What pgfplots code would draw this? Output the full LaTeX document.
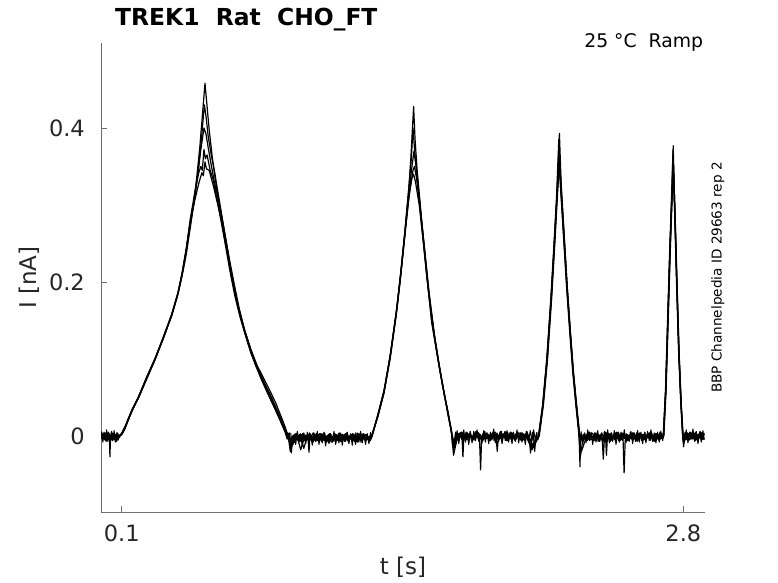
\documentclass[border=0pt]{standalone}
\usepackage{fontspec}
\setmainfont{DejaVu Sans}
\usepackage{pgfplots}
\pgfplotsset{compat=1.18}
\definecolor{axgray}{RGB}{110,110,110}
\definecolor{txtgray}{RGB}{38,38,38}
\begin{document}
\begin{tikzpicture}[x=1bp,y=1bp]
\useasboundingbox (0,0) rectangle (778,583);
\begin{axis}[
  at={(101bp,70.7bp)}, anchor=south west,
  scale only axis, width=604bp, height=469.3bp,
  xmin=0, xmax=2.904, ymin=-0.0991, ymax=0.5104,
  axis x line*=bottom, axis y line*=left,
  axis line style={axgray, line width=0.8bp, -},
  xtick={0.1,2.8}, ytick={0,0.2,0.4},
  tick align=inside, major tick length=6bp,
  tick style={axgray, line width=0.8bp},
  /pgf/number format/assume math mode=true,
  tick label style={font=\fontsize{22.5bp}{27bp}\selectfont, text=txtgray},
  yticklabel style={anchor=east, inner sep=0pt, xshift=-16bp},
  xticklabel style={anchor=north, inner sep=0pt, yshift=-12.7bp},
  xlabel={t [s]}, ylabel={I [nA]},
  label style={font=\fontsize{23bp}{27bp}\selectfont, text=txtgray},
  xlabel style={at={(axis description cs:0.5,-0.1166)}, anchor=center},
  ylabel style={at={(axis description cs:-0.1189,0.5)}, anchor=center},
  unbounded coords=jump,
  tr/.style={black, no markers, line width=1.2bp, line join=round},
]
% Trace 1
\addplot[tr] coordinates {
(0,0.002)(0.005,-0.003)(0.01,0.004)(0.015,-0.005)(0.02,0.000)(0.025,-0.007)(0.03,0.003)(0.035,-0.002)(0.04,0.001)(0.043,-0.027)(0.045,-0.006)(0.05,0.005)(0.055,-0.004)(0.06,-0.001)(0.065,-0.005)(0.07,0.002)(0.075,-0.007)(0.08,0.004)(0.085,-0.002)
(0.09,0.001)(0.10,0.003)(0.115,0.011)(0.13,0.022)(0.15,0.034)(0.18,0.051)(0.22,0.076)(0.26,0.1)(0.30,0.129)(0.34,0.158)(0.37,0.186)(0.39,0.211)(0.41,0.242)(0.43,0.281)(0.445,0.302)(0.46,0.335)(0.475,0.375)(0.49,0.425)(0.5,0.458)(0.51,0.428)(0.52,0.398)(0.535,0.362)(0.55,0.332)(0.57,0.301)(0.59,0.27)(0.61,0.238)(0.63,0.206)(0.65,0.179)(0.68,0.146)(0.71,0.119)(0.74,0.094)(0.77,0.074)(0.8,0.056)(0.83,0.039)(0.86,0.022)(0.88,0.01)(0.9,0.001)
(0.905,0.004)(0.910,-0.005)(0.915,-0.022)(0.920,-0.006)(0.925,0.001)(0.930,-0.008)(0.935,0.003)(0.940,-0.004)(0.945,-0.001)(0.950,-0.005)(0.955,0.002)(0.960,-0.007)(0.965,0.000)(0.970,-0.003)(0.975,0.004)(0.980,-0.006)(0.985,0.001)(0.990,-0.004)(0.995,-0.002)(1.000,-0.021)
(1.005,0.003)(1.010,-0.005)(1.015,0.000)(1.020,-0.008)(1.025,0.002)(1.030,-0.003)(1.035,0.001)(1.040,-0.006)(1.045,-0.001)(1.050,-0.004)(1.055,0.003)(1.060,-0.007)(1.065,0.000)(1.070,-0.005)(1.075,0.004)(1.080,-0.003)(1.085,-0.002)(1.090,-0.006)(1.095,0.002)(1.100,-0.008)
(1.105,0.001)(1.110,-0.004)(1.115,-0.001)(1.120,-0.007)(1.125,0.003)(1.130,-0.005)(1.135,0.000)(1.140,-0.006)(1.145,0.004)(1.150,-0.004)(1.155,0.002)(1.160,-0.005)(1.165,-0.001)(1.170,-0.007)(1.175,0.001)(1.180,-0.003)(1.185,0.003)(1.190,-0.008)(1.195,0.000)(1.200,-0.004)
(1.205,0.002)(1.210,-0.006)(1.215,-0.002)(1.220,-0.005)(1.225,0.004)(1.230,-0.007)(1.235,-0.001)(1.240,-0.003)(1.245,0.001)(1.250,-0.008)(1.255,0.003)(1.260,-0.004)(1.265,0.000)(1.270,-0.006)(1.275,0.002)(1.280,-0.005)(1.285,-0.001)(1.290,-0.007)(1.295,0.001)(1.300,-0.002)
(1.305,0.002)(1.33,0.026)(1.36,0.057)(1.39,0.103)(1.42,0.16)(1.44,0.208)(1.46,0.262)(1.48,0.322)(1.49,0.362)(1.503,0.428)(1.51,0.385)(1.52,0.345)(1.543,0.277)(1.57,0.2)(1.59,0.147)(1.62,0.1)(1.647,0.06)(1.67,0.029)(1.685,0.006)(1.69,-0.012)
(1.695,-0.008)(1.700,-0.005)(1.705,0.005)(1.710,-0.003)(1.715,0.002)(1.720,-0.006)(1.725,0.004)(1.730,-0.001)(1.735,0.003)(1.740,-0.027)(1.745,0.001)(1.750,-0.002)(1.755,0.005)(1.760,-0.005)(1.765,0.002)(1.770,-0.003)(1.775,0.006)(1.780,-0.001)(1.785,0.000)(1.790,-0.004)
(1.795,0.004)(1.800,-0.006)(1.805,0.003)(1.810,-0.002)(1.815,0.001)(1.820,-0.005)(1.825,-0.044)(1.830,-0.003)(1.835,0.002)(1.840,-0.004)(1.845,0.006)(1.850,-0.002)(1.855,0.004)(1.860,-0.003)(1.865,0.001)(1.870,-0.005)(1.875,0.003)(1.880,-0.001)(1.885,0.005)(1.890,-0.006)
(1.895,0.002)(1.900,-0.002)(1.905,-0.020)(1.910,-0.004)(1.915,0.000)(1.920,-0.003)(1.925,0.006)(1.930,-0.005)(1.935,0.001)(1.940,-0.001)(1.945,0.003)(1.950,-0.006)(1.955,0.005)(1.960,-0.002)(1.965,0.002)(1.970,-0.004)(1.975,0.004)(1.980,-0.003)(1.985,0.001)(1.990,-0.005)
(1.995,0.003)(2.000,-0.002)(2.005,0.005)(2.010,-0.004)(2.015,0.001)(2.020,-0.006)(2.025,0.004)(2.030,-0.001)(2.035,0.002)(2.040,-0.005)(2.045,0.006)(2.050,-0.003)(2.055,0.000)(2.060,-0.004)(2.065,-0.022)(2.070,-0.006)(2.075,0.005)(2.080,-0.002)(2.085,-0.020)(2.090,-0.003)(2.095,0.004)(2.100,-0.005)
(2.105,0.0)(2.125,0.04)(2.145,0.1)(2.165,0.18)(2.18,0.25)(2.192,0.31)(2.204,0.393)(2.212,0.33)(2.225,0.27)(2.24,0.2)(2.255,0.14)(2.27,0.085)(2.285,0.04)(2.298,0.005)(2.303,-0.04)
(2.305,-0.010)(2.310,-0.003)(2.315,0.000)(2.320,-0.006)(2.325,0.004)(2.330,-0.004)(2.335,0.001)(2.340,-0.005)(2.345,0.005)(2.350,-0.003)(2.355,0.003)(2.360,-0.004)(2.365,0.000)(2.370,-0.006)(2.375,0.002)(2.380,-0.002)(2.385,0.004)(2.390,-0.007)(2.395,0.001)(2.400,-0.003)
(2.405,0.003)(2.410,-0.005)(2.415,-0.030)(2.420,-0.004)(2.425,0.005)(2.430,-0.025)(2.435,0.000)(2.440,-0.002)(2.445,0.002)(2.450,-0.007)(2.455,0.004)(2.460,-0.003)(2.465,0.001)(2.470,-0.005)(2.475,0.003)(2.480,-0.004)(2.485,0.000)(2.490,-0.006)(2.495,0.002)(2.500,-0.003)
(2.505,0.004)(2.510,-0.005)(2.515,-0.048)(2.520,-0.007)(2.525,0.003)(2.530,-0.002)(2.535,0.001)(2.540,-0.006)(2.545,0.005)(2.550,-0.004)(2.555,-0.001)(2.560,-0.005)(2.565,0.002)(2.570,-0.007)(2.575,0.004)(2.580,-0.003)(2.585,0.000)(2.590,-0.004)(2.595,0.003)(2.600,-0.006)
(2.605,0.001)(2.610,-0.002)(2.615,0.005)(2.620,-0.005)(2.625,0.002)(2.630,-0.003)(2.635,0.004)(2.640,-0.006)(2.645,0.001)(2.650,-0.004)(2.655,0.001)(2.660,-0.007)(2.665,0.003)(2.670,-0.002)(2.675,0.002)(2.680,-0.005)(2.685,0.000)(2.690,-0.003)(2.695,0.004)(2.700,-0.006)
(2.704,0.0)(2.715,0.06)(2.725,0.15)(2.735,0.24)(2.744,0.31)(2.751,0.377)(2.758,0.30)(2.768,0.2)(2.778,0.11)(2.788,0.045)(2.797,0.0)(2.801,-0.014)
(2.805,-0.004)(2.81,0.005)(2.815,-0.003)(2.82,0.002)(2.825,-0.006)(2.83,0.004)(2.835,-0.001)(2.84,0.003)(2.845,-0.004)(2.85,0.001)(2.855,-0.002)(2.86,0.005)(2.865,-0.005)(2.87,0.002)(2.875,-0.003)(2.88,0.006)(2.885,-0.001)(2.89,0.000)(2.895,-0.004)(2.9,0.004)
};
% Trace 2
\addplot[tr] coordinates {
(0.0025,-0.004)(0.0125,0.003)(0.0225,-0.006)(0.0325,0.002)(0.0425,-0.005)(0.0525,0.004)(0.0625,-0.003)(0.0725,0.001)(0.0825,-0.005)
(0.088,0.0)(0.1,0.004)(0.115,0.012)(0.13,0.021)(0.15,0.035)(0.18,0.05)(0.22,0.077)(0.26,0.101)(0.3,0.128)(0.34,0.156)(0.37,0.184)(0.39,0.208)(0.41,0.236)(0.43,0.272)(0.44,0.29)(0.455,0.318)(0.47,0.35)(0.485,0.392)(0.497,0.43)(0.505,0.415)(0.515,0.39)(0.53,0.365)(0.545,0.345)(0.56,0.32)(0.58,0.288)(0.6,0.255)(0.62,0.222)(0.64,0.194)(0.66,0.168)(0.69,0.138)(0.72,0.112)(0.75,0.09)(0.78,0.072)(0.81,0.055)(0.84,0.036)(0.865,0.018)(0.885,0.005)(0.895,-0.004)
(0.9025,0.003)(0.9125,-0.006)(0.9225,0.000)(0.9325,-0.008)(0.9425,0.001)(0.9525,-0.003)(0.9625,0.002)(0.9725,-0.007)(0.9825,-0.001)(0.9925,-0.005)(1.0025,0.004)(1.0125,-0.004)(1.0225,-0.002)(1.0325,-0.007)(1.0425,0.001)(1.0525,-0.006)(1.0625,0.003)(1.0725,-0.003)(1.0825,0.000)(1.0925,-0.008)
(1.1025,0.002)(1.1125,-0.005)(1.1225,-0.001)(1.1325,-0.004)(1.1425,0.003)(1.1525,-0.007)(1.1625,0.001)(1.1725,-0.003)(1.1825,0.004)(1.1925,-0.006)(1.2025,0.000)(1.2125,-0.005)(1.2225,-0.002)(1.2325,-0.008)(1.2425,0.002)(1.2525,-0.004)(1.2625,0.003)(1.2725,-0.006)(1.2825,-0.001)(1.2925,-0.005)
(1.302,0.0)(1.33,0.027)(1.36,0.058)(1.39,0.104)(1.42,0.162)(1.44,0.21)(1.46,0.263)(1.48,0.322)(1.492,0.36)(1.5,0.4)(1.508,0.37)(1.52,0.335)(1.54,0.28)(1.565,0.21)(1.59,0.15)(1.615,0.107)(1.64,0.068)(1.665,0.035)(1.68,0.014)(1.69,-0.005)(1.695,-0.018)
(1.7025,-0.003)(1.7125,0.004)(1.7225,-0.001)(1.7325,0.005)(1.7425,-0.006)(1.7525,0.002)(1.7625,-0.004)(1.7725,0.003)(1.7825,0.000)(1.7925,-0.005)(1.8025,0.006)(1.8125,-0.002)(1.8225,0.001)(1.8325,-0.004)(1.8425,0.005)(1.8525,-0.003)(1.8625,0.002)(1.8725,-0.006)(1.8825,0.004)(1.8925,-0.001)
(1.9025,0.003)(1.9125,-0.005)(1.9225,0.001)(1.9325,-0.002)(1.9425,0.006)(1.9525,-0.004)(1.9625,0.000)(1.9725,-0.003)(1.9825,0.005)(1.9925,-0.006)(2.0025,0.002)(2.0125,-0.001)(2.0225,0.004)(2.0325,-0.005)(2.0425,0.003)(2.0525,-0.002)(2.0625,-0.012)(2.0725,-0.018)(2.0825,-0.01)(2.0925,-0.003)
(2.103,0.0)(2.123,0.04)(2.143,0.1)(2.163,0.18)(2.178,0.25)(2.19,0.31)(2.201,0.385)(2.21,0.32)(2.223,0.262)(2.238,0.195)(2.253,0.137)(2.268,0.083)(2.283,0.04)(2.296,0.006)(2.302,-0.012)
(2.3075,0.003)(2.3175,-0.004)(2.3275,0.001)(2.3375,-0.006)(2.3475,0.005)(2.3575,-0.002)(2.3675,-0.001)(2.3775,-0.005)(2.3875,0.002)(2.3975,-0.007)(2.4075,0.004)(2.4175,-0.003)(2.4275,0.000)(2.4375,-0.004)(2.4475,0.003)(2.4575,-0.006)(2.4675,0.001)(2.4775,-0.002)(2.4875,0.005)(2.4975,-0.005)
(2.5075,0.002)(2.5175,-0.003)(2.5275,-0.001)(2.5375,-0.006)(2.5475,0.004)(2.5575,-0.004)(2.5675,0.001)(2.5775,-0.007)(2.5875,0.003)(2.5975,-0.002)(2.6075,0.002)(2.6175,-0.005)(2.6275,0.000)(2.6375,-0.003)(2.6475,0.004)(2.6575,-0.006)(2.6675,0.001)(2.6775,-0.004)(2.6875,0.005)(2.6975,-0.002)
(2.703,0.0)(2.714,0.06)(2.724,0.15)(2.734,0.24)(2.743,0.31)(2.75,0.37)(2.757,0.3)(2.767,0.2)(2.777,0.11)(2.787,0.045)(2.796,0.002)(2.8,-0.008)
(2.8075,0.004)(2.8175,-0.005)(2.8275,0.002)(2.8375,-0.003)(2.8475,0.005)(2.8575,-0.006)(2.8675,0.001)(2.8775,-0.002)(2.8875,0.004)(2.8975,-0.004)
};
% Trace 3
\addplot[tr] coordinates {
(0.0,-0.003)(0.02,0.004)(0.04,-0.005)(0.06,0.003)(0.08,-0.002)
(0.086,0.0)(0.1,0.003)(0.115,0.01)(0.13,0.02)(0.15,0.033)(0.18,0.049)(0.22,0.074)(0.26,0.099)(0.3,0.127)(0.34,0.157)(0.37,0.185)(0.39,0.21)(0.41,0.24)(0.43,0.276)(0.45,0.31)(0.465,0.34)(0.48,0.372)(0.495,0.4)(0.505,0.392)(0.515,0.375)(0.53,0.352)(0.545,0.33)(0.56,0.312)(0.58,0.285)(0.6,0.256)(0.62,0.226)(0.64,0.198)(0.665,0.165)(0.69,0.138)(0.72,0.113)(0.75,0.092)(0.78,0.076)(0.81,0.06)(0.84,0.043)(0.865,0.026)(0.885,0.012)(0.9,0.0)(0.905,-0.01)
(0.91,-0.02)(0.93,0.002)(0.95,-0.007)(0.97,0.003)(0.99,-0.005)(1.01,0.001)(1.03,-0.006)(1.05,0.003)(1.07,-0.004)(1.09,-0.001)(1.11,-0.008)(1.13,0.002)(1.15,-0.005)(1.17,0.001)(1.19,-0.007)(1.21,0.003)(1.23,-0.003)(1.25,-0.005)(1.27,0.002)(1.29,-0.005)
(1.302,0.0)(1.33,0.025)(1.36,0.056)(1.39,0.102)(1.42,0.16)(1.44,0.207)(1.46,0.26)(1.48,0.315)(1.495,0.35)(1.505,0.37)(1.515,0.35)(1.53,0.31)(1.55,0.256)(1.575,0.19)(1.6,0.137)(1.625,0.094)(1.65,0.055)(1.67,0.027)(1.685,0.005)(1.695,-0.025)
(1.71,-0.006)(1.73,0.004)(1.75,-0.003)(1.77,0.002)(1.79,-0.005)(1.81,0.005)(1.83,-0.002)(1.85,0.001)(1.87,-0.006)(1.89,0.003)(1.91,-0.004)(1.93,0.002)(1.95,-0.003)(1.97,0.005)(1.99,-0.005)(2.01,0.001)(2.03,-0.002)(2.05,0.004)(2.07,-0.016)(2.09,-0.006)
(2.105,0.0)(2.125,0.04)(2.145,0.1)(2.165,0.18)(2.18,0.25)(2.192,0.31)(2.203,0.37)(2.212,0.32)(2.225,0.262)(2.24,0.195)(2.255,0.137)(2.27,0.083)(2.285,0.04)(2.298,0.006)(2.305,-0.018)
(2.31,-0.02)(2.33,-0.004)(2.35,0.003)(2.37,-0.006)(2.39,0.002)(2.41,-0.003)(2.43,0.004)(2.45,-0.005)(2.47,0.001)(2.49,-0.002)(2.51,0.003)(2.53,-0.006)(2.55,0.002)(2.57,-0.004)(2.59,0.004)(2.61,-0.005)(2.63,0.001)(2.65,-0.003)(2.67,0.003)(2.69,-0.004)
(2.705,0.0)(2.716,0.06)(2.726,0.15)(2.736,0.24)(2.745,0.31)(2.751,0.36)(2.759,0.295)(2.769,0.198)(2.779,0.108)(2.789,0.043)(2.798,0.0)(2.802,-0.01)
(2.81,0.003)(2.83,-0.005)(2.85,0.004)(2.87,-0.003)(2.89,0.002)(2.9,-0.004)
};
% Trace 4
\addplot[tr] coordinates {
(0.01,0.003)(0.03,-0.006)(0.05,0.002)(0.07,-0.004)(0.084,0.001)
(0.09,0.0)(0.1,0.002)(0.115,0.009)(0.13,0.021)(0.15,0.034)(0.18,0.05)(0.22,0.075)(0.26,0.1)(0.3,0.128)(0.34,0.158)(0.37,0.186)(0.39,0.212)(0.41,0.244)(0.43,0.283)(0.45,0.315)(0.47,0.342)(0.48,0.35)(0.487,0.345)(0.495,0.372)(0.502,0.36)(0.51,0.365)(0.525,0.345)(0.54,0.332)(0.56,0.305)(0.58,0.275)(0.6,0.245)(0.62,0.214)(0.645,0.18)(0.67,0.153)(0.7,0.126)(0.73,0.102)(0.76,0.083)(0.79,0.066)(0.82,0.05)(0.85,0.032)(0.875,0.016)(0.895,0.003)(0.91,-0.006)
(0.92,-0.012)(0.94,0.003)(0.96,-0.018)(0.98,0.001)(1.0,-0.006)(1.02,0.004)(1.04,-0.004)(1.06,-0.001)(1.08,-0.007)(1.1,0.003)(1.12,-0.003)(1.14,-0.006)(1.16,0.002)(1.18,-0.005)(1.2,0.001)(1.22,-0.007)(1.24,0.003)(1.26,-0.004)(1.28,0.0)(1.295,-0.006)
(1.304,0.0)(1.335,0.03)(1.365,0.064)(1.395,0.112)(1.425,0.172)(1.445,0.22)(1.465,0.272)(1.485,0.32)(1.5,0.345)(1.507,0.35)(1.517,0.335)(1.535,0.295)(1.555,0.245)(1.58,0.18)(1.605,0.127)(1.63,0.085)(1.655,0.048)(1.675,0.02)(1.69,0.0)(1.7,-0.015)
(1.72,0.003)(1.74,-0.006)(1.76,0.004)(1.78,-0.002)(1.8,0.001)(1.82,-0.005)(1.84,0.004)(1.86,-0.003)(1.88,0.002)(1.9,-0.006)(1.92,0.005)(1.94,-0.002)(1.96,0.0)(1.98,-0.004)(2.0,0.003)(2.02,-0.005)(2.04,0.002)(2.06,-0.01)(2.08,-0.015)(2.098,-0.004)
(2.107,0.0)(2.127,0.04)(2.147,0.1)(2.167,0.18)(2.182,0.25)(2.194,0.31)(2.205,0.36)(2.214,0.315)(2.227,0.258)(2.242,0.192)(2.257,0.135)(2.272,0.082)(2.287,0.04)(2.3,0.006)(2.306,-0.025)
(2.315,-0.008)(2.335,0.002)(2.355,-0.005)(2.375,0.004)(2.395,-0.002)(2.415,-0.006)(2.435,0.003)(2.455,-0.003)(2.475,0.004)(2.495,-0.006)(2.515,0.001)(2.535,-0.002)(2.555,0.004)(2.575,-0.005)(2.595,0.002)(2.615,-0.004)(2.635,0.003)(2.655,-0.006)(2.675,0.002)(2.698,-0.002)
(2.706,0.0)(2.717,0.06)(2.727,0.15)(2.737,0.24)(2.746,0.31)(2.752,0.35)(2.76,0.29)(2.77,0.195)(2.78,0.105)(2.79,0.04)(2.799,0.0)(2.803,-0.006)
(2.815,-0.003)(2.835,0.005)(2.855,-0.004)(2.875,0.002)(2.895,-0.005)
};
% Trace 5
\addplot[tr] coordinates {
(0.0,0.004)(0.015,-0.004)(0.035,0.005)(0.055,-0.006)(0.075,0.002)(0.088,-0.002)
(0.092,0.0)(0.1,0.002)(0.115,0.01)(0.13,0.02)(0.15,0.033)(0.18,0.05)(0.22,0.076)(0.26,0.1)(0.3,0.127)(0.34,0.157)(0.37,0.185)(0.39,0.21)(0.41,0.242)(0.43,0.278)(0.45,0.305)(0.47,0.328)(0.485,0.342)(0.492,0.338)(0.5,0.356)(0.507,0.347)(0.52,0.345)(0.54,0.325)(0.56,0.302)(0.58,0.278)(0.6,0.25)(0.62,0.22)(0.64,0.19)(0.66,0.165)(0.69,0.135)(0.72,0.108)(0.75,0.088)(0.78,0.07)(0.81,0.051)(0.84,0.033)(0.87,0.015)(0.89,0.004)(0.905,-0.007)
(0.915,-0.015)(0.935,-0.004)(0.955,0.002)(0.975,-0.016)(0.995,0.002)(1.015,-0.007)(1.035,0.003)(1.055,-0.002)(1.075,-0.006)(1.095,0.002)(1.115,-0.004)(1.135,0.001)(1.155,-0.007)(1.175,0.003)(1.195,-0.003)(1.215,0.002)(1.235,-0.006)(1.255,0.001)(1.275,-0.004)(1.298,0.0)
(1.3,0.0)(1.33,0.024)(1.36,0.055)(1.39,0.1)(1.42,0.158)(1.44,0.205)(1.46,0.258)(1.48,0.31)(1.495,0.335)(1.503,0.34)(1.512,0.33)(1.53,0.3)(1.55,0.25)(1.575,0.187)(1.6,0.135)(1.625,0.092)(1.65,0.054)(1.672,0.022)(1.688,0.0)(1.698,-0.012)
(1.715,-0.002)(1.735,0.005)(1.755,-0.005)(1.775,0.001)(1.795,-0.003)(1.815,0.004)(1.835,-0.006)(1.855,0.002)(1.875,-0.001)(1.895,0.005)(1.915,-0.004)(1.935,0.0)(1.955,-0.006)(1.975,0.003)(1.995,-0.002)(2.015,0.004)(2.035,-0.005)(2.055,0.001)(2.075,-0.012)(2.095,-0.002)
(2.104,0.0)(2.124,0.04)(2.144,0.1)(2.164,0.18)(2.179,0.25)(2.192,0.31)(2.203,0.35)(2.213,0.31)(2.226,0.255)(2.241,0.19)(2.256,0.133)(2.271,0.08)(2.286,0.038)(2.299,0.004)(2.304,-0.006)
(2.32,0.002)(2.34,-0.005)(2.36,0.004)(2.38,-0.003)(2.4,0.001)(2.42,-0.006)(2.44,0.003)(2.46,-0.002)(2.48,0.005)(2.5,-0.005)(2.52,0.0)(2.54,-0.003)(2.56,0.004)(2.58,-0.006)(2.6,0.002)(2.62,-0.002)(2.64,0.004)(2.66,-0.005)(2.68,0.001)(2.7,-0.003)
(2.704,0.0)(2.715,0.06)(2.725,0.15)(2.735,0.24)(2.745,0.31)(2.751,0.34)(2.758,0.295)(2.768,0.2)(2.778,0.11)(2.788,0.045)(2.797,0.0)(2.8,-0.003)
(2.82,0.004)(2.84,-0.002)(2.86,-0.005)(2.88,0.005)(2.9,0.001)
};
% Extra baseline noise of the other repetitions
\addplot[tr, line width=1bp] coordinates {
(0.003,0.006)(0.009,-0.008)(0.015,0.005)(0.021,-0.004)(0.027,0.008)(0.033,-0.007)(0.039,0.003)(0.045,-0.009)(0.051,0.006)(0.057,-0.005)(0.063,0.007)(0.069,-0.008)(0.075,0.004)(0.081,-0.006)
(0.085,nan)
(0.912,0.004)(0.920,-0.012)(0.928,0.001)(0.936,-0.011)(0.944,0.006)(0.952,-0.008)(0.960,0.003)(0.968,-0.013)(0.976,0.002)(0.984,-0.010)(0.992,0.005)(1.000,-0.009)(1.008,0.000)(1.016,-0.012)(1.024,0.004)(1.032,-0.007)(1.040,0.006)(1.048,-0.011)(1.056,0.002)(1.064,-0.009)(1.072,0.005)(1.080,-0.013)(1.088,0.001)(1.096,-0.010)(1.104,0.003)
(1.112,-0.008)(1.120,0.006)(1.128,-0.011)(1.136,0.000)(1.144,-0.009)(1.152,0.004)(1.160,-0.012)(1.168,0.002)(1.176,-0.007)(1.184,0.005)(1.192,-0.010)(1.200,0.003)(1.208,-0.012)(1.216,0.001)(1.224,-0.011)(1.232,0.004)(1.240,-0.008)(1.248,0.006)(1.256,-0.009)(1.264,0.002)(1.272,-0.011)(1.280,0.003)(1.288,-0.010)(1.296,0.005)
(1.3,nan)
(1.704,-0.007)(1.712,0.007)(1.720,-0.010)(1.728,0.004)(1.736,-0.005)(1.744,0.008)(1.752,-0.008)(1.760,0.005)(1.768,-0.011)(1.776,0.003)(1.784,-0.009)(1.792,0.006)(1.800,-0.006)(1.808,0.008)(1.816,-0.007)(1.824,0.002)(1.832,-0.009)(1.840,0.007)(1.848,-0.008)(1.856,0.004)(1.864,-0.010)(1.872,0.005)(1.880,-0.005)(1.888,0.009)(1.896,-0.009)
(1.904,0.004)(1.912,-0.007)(1.920,0.006)(1.928,-0.010)(1.936,0.003)(1.944,-0.006)(1.952,0.007)(1.960,-0.008)(1.968,0.005)(1.976,-0.010)(1.984,0.002)(1.992,-0.007)(2.000,0.008)(2.008,-0.009)(2.016,0.004)(2.024,-0.008)(2.032,0.003)(2.040,-0.011)(2.048,0.006)(2.056,-0.006)(2.064,0.007)(2.072,-0.007)(2.080,0.008)(2.088,-0.005)(2.096,0.005)
(2.1,nan)
(2.308,0.006)(2.316,-0.010)(2.324,0.003)(2.332,-0.009)(2.340,0.008)(2.348,-0.006)(2.356,0.005)(2.364,-0.011)(2.372,0.004)(2.380,-0.008)(2.388,0.007)(2.396,-0.007)(2.404,0.002)(2.412,-0.010)(2.420,0.006)(2.428,-0.005)(2.436,0.008)(2.444,-0.009)(2.452,0.004)(2.460,-0.007)(2.468,0.007)(2.476,-0.011)(2.484,0.003)(2.492,-0.008)(2.500,0.005)
(2.508,-0.006)(2.516,0.008)(2.524,-0.009)(2.532,0.002)(2.540,-0.007)(2.548,0.006)(2.556,-0.010)(2.564,0.004)(2.572,-0.005)(2.580,0.007)(2.588,-0.008)(2.596,0.005)(2.604,-0.010)(2.612,0.003)(2.620,-0.009)(2.628,0.006)(2.636,-0.006)(2.644,0.008)(2.652,-0.007)(2.660,0.004)(2.668,-0.009)(2.676,0.005)(2.684,-0.008)(2.692,0.007)
(2.7,nan)
(2.806,-0.007)(2.814,0.008)(2.822,-0.009)(2.83,0.005)(2.838,-0.004)(2.846,0.009)(2.854,-0.007)(2.862,0.006)(2.87,-0.01)(2.878,0.004)(2.886,-0.008)(2.894,0.007)(2.9,-0.005)
};
\end{axis}
\node[anchor=base west, inner sep=0pt, font=\fontsize{23.4bp}{28bp}\selectfont\bfseries] at (115,557) {TREK1~~Rat~~CHO\_FT};
\node[anchor=base east, inner sep=0pt, font=\fontsize{18.8bp}{22bp}\selectfont] at (703.3,535.7) {25~°C~~Ramp};
\node[rotate=90, anchor=base, inner sep=0pt, font=\fontsize{13.6bp}{16bp}\selectfont] at (721.7,305.5) {BBP Channelpedia ID 29663 rep 2};
\end{tikzpicture}
\end{document}
